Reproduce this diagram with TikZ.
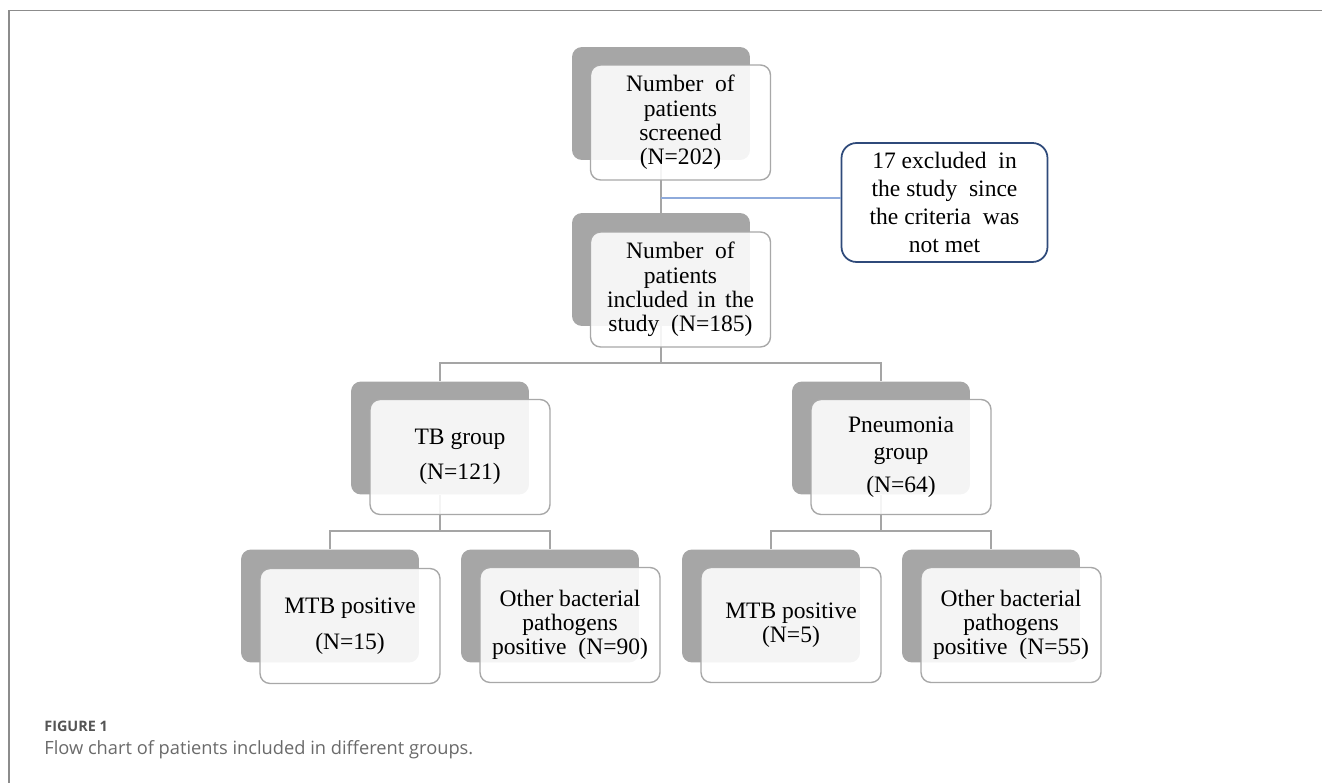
\documentclass[tikz,border=0pt]{standalone}
\usepackage{fontspec}
\setmainfont{Liberation Serif}
\newfontfamily\capfont{Open Sans}
\usepackage{tikz}

\definecolor{shadegray}{HTML}{A6A6A6}
\definecolor{linegray}{HTML}{A5A5A5}
\definecolor{edgegray}{HTML}{A8A8A8}
\definecolor{linkblue}{HTML}{8EAADB}
\definecolor{exclblue}{HTML}{2F4A7A}
\definecolor{framegray}{HTML}{8C8C8C}
\definecolor{captgray}{HTML}{6A6A6A}

\begin{document}
\begin{tikzpicture}[x=0.02cm, y=-0.02cm,
    back/.style={fill=shadegray, rounded corners=0.2cm, minimum width=3.56cm, minimum height=2.26cm},
    card/.style={draw=edgegray, line width=0.8pt, fill=white, fill opacity=0.88, text opacity=1,
        rounded corners=0.2cm, minimum width=3.6cm, minimum height=2.3cm, align=center,
        font=\fontsize{13.4}{13.8}\selectfont},
    link/.style={draw=linegray, line width=0.9pt}]

    \useasboundingbox (0, 0) rectangle (1322, 783);
    \draw[framegray, line width=0.9pt] (9, 783) -- (9, 10.5) -- (1322, 10.5);

    \node[back] (s1) at (661, 103.5) {};
    \node[back] (s2) at (661, 269.5) {};
    \node[back] (s3) at (440, 438) {};
    \node[back] (s4) at (881, 438) {};
    \node[back] (s5) at (330, 606) {};
    \node[back] (s6) at (550, 606) {};
    \node[back] (s7) at (771, 606) {};
    \node[back] (s8) at (991, 606) {};

    \coordinate (j0) at (661, 198);
    \coordinate (j1) at (661, 363);
    \coordinate (j2) at (440, 531);
    \coordinate (j3) at (881, 531);

    \draw[link] (s1.south) -- (s2.north);
    \draw[link] (s2.south) -- (j1);
    \draw[link] (s3.north) |- (j1) -| (s4.north);
    \draw[link] (s3.south) -- (j2);
    \draw[link] (s5.north) |- (j2) -| (s6.north);
    \draw[link] (s4.south) -- (j3);
    \draw[link] (s7.north) |- (j3) -| (s8.north);

    \node[draw=exclblue, line width=1pt, fill=white, rounded corners=0.3cm, minimum width=4.12cm,
        minimum height=2.38cm, align=center, font=\fontsize{13.4}{16.1}\selectfont]
        (excl) at (944.5, 202.5) {17 excluded\ \ in\\the study\ \ since\\the criteria\ \ was\\not met};
    \draw[linkblue, line width=0.8pt] (j0) -- (excl.west |- j0);

    \node[card] (b1) at (680.5, 122.5) {Number\hspace{0.5em}of\\patients\\screened\\(N=202)};
    \node[card] (b2) at (680.5, 289.5) {Number\hspace{0.5em}of\\patients\\included\hspace{0.4em}in\hspace{0.4em}the\\study\ \ (N=185)};
    \node[card] (b3) at (460, 457) {TB group\\[6pt](N=121)};
    \node[card] (b4) at (901, 457) {Pneumonia\\[1.5pt]group\\[5pt](N=64)};
    \node[card] (b5) at (350, 626) {MTB positive\\[7pt](N=15)};
    \node[card] (b6) at (570, 625) {Other bacterial\\pathogens\\positive\ \ (N=90)};
    \node[card] (b7) at (791, 625) {MTB positive\\(N=5)};
    \node[card] (b8) at (1011, 625) {Other bacterial\\pathogens\\positive\ \ (N=55)};

    \node[anchor=west, text=captgray!80!black, font=\capfont\bfseries\fontsize{8.2}{10}\selectfont, inner sep=0pt]
        (fig) at (44, 726) {FIGURE 1};
    \node[anchor=west, text=captgray, font=\capfont\fontsize{10.4}{12}\selectfont, inner sep=0pt]
        (cap) at (44, 750) {Flow chart of patients included in different groups.};
\end{tikzpicture}
\end{document}
